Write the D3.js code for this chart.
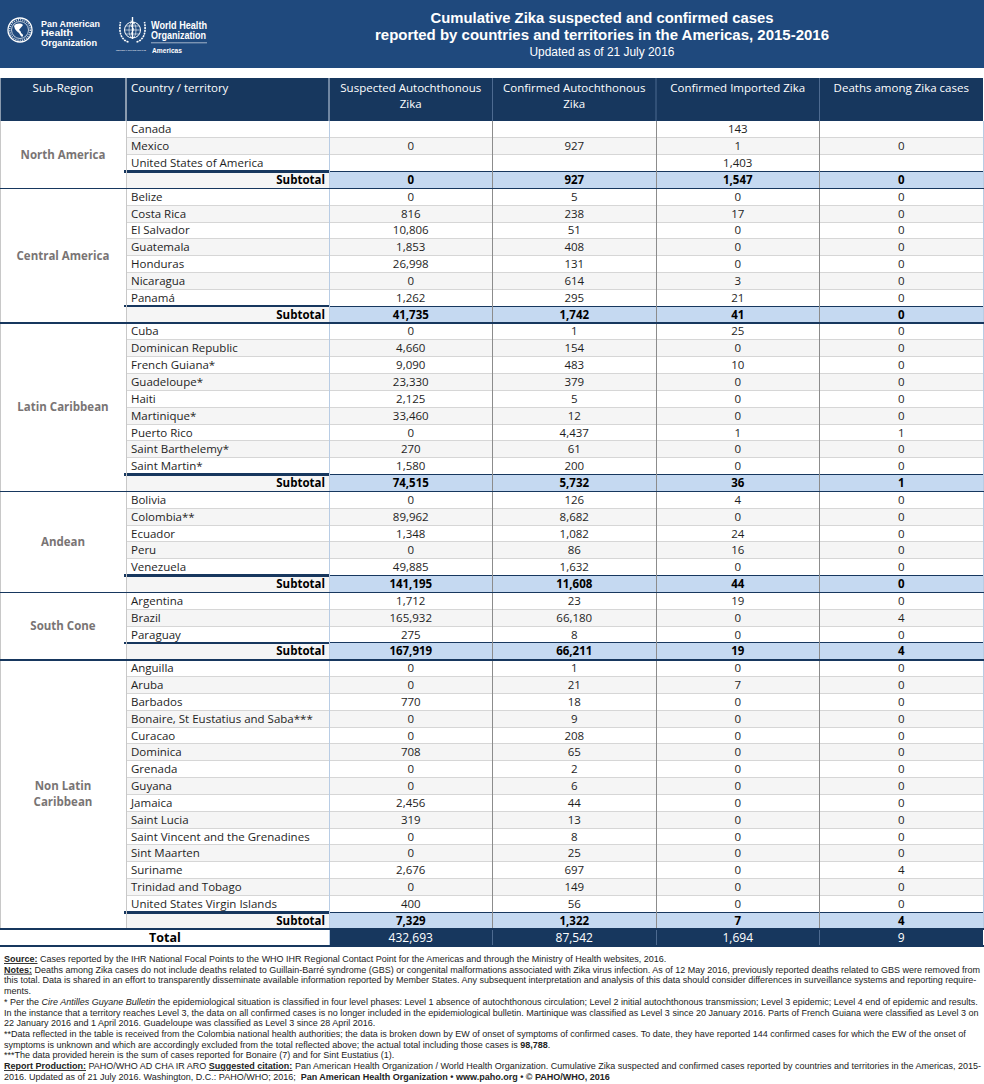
<!DOCTYPE html>
<html>
<head>
<meta charset="utf-8">
<script src="https://cdn.jsdelivr.net/npm/d3@7"></script>
<style>
  body { margin: 0; background: #fff; }
  svg { display: block; }
</style>
</head>
<body>
<script>
const subRegions = ['North America', 'Central America', 'Latin Caribbean', 'Andean', 'South Cone', 'Non Latin Caribbean'];

const countries = [
  'Canada', 'Mexico', 'United States of America',
  'Belize', 'Costa Rica', 'El Salvador', 'Guatemala', 'Honduras', 'Nicaragua', 'Panamá',
  'Cuba', 'Dominican Republic', 'French Guiana*', 'Guadeloupe*', 'Haiti', 'Martinique*', 'Puerto Rico', 'Saint Barthelemy*', 'Saint Martin*',
  'Bolivia', 'Colombia**', 'Ecuador', 'Peru', 'Venezuela',
  'Argentina', 'Brazil', 'Paraguay',
  'Anguilla', 'Aruba', 'Barbados', 'Bonaire, St Eustatius and Saba***', 'Curacao', 'Dominica', 'Grenada', 'Guyana', 'Jamaica',
  'Saint Lucia', 'Saint Vincent and the Grenadines', 'Sint Maarten', 'Suriname', 'Trinidad and Tobago', 'United States Virgin Islands'
];

const regionOf = [
  0, 0, 0,
  1, 1, 1, 1, 1, 1, 1,
  2, 2, 2, 2, 2, 2, 2, 2, 2,
  3, 3, 3, 3, 3,
  4, 4, 4,
  5, 5, 5, 5, 5, 5, 5, 5, 5, 5, 5, 5, 5, 5, 5
];

// null = cell left blank in the source
const suspected = [
  null, 0, null,
  0, 816, 10806, 1853, 26998, 0, 1262,
  0, 4660, 9090, 23330, 2125, 33460, 0, 270, 1580,
  0, 89962, 1348, 0, 49885,
  1712, 165932, 275,
  0, 0, 770, 0, 0, 708, 0, 0, 2456, 319, 0, 0, 2676, 0, 400
];
const confirmed = [
  null, 927, null,
  5, 238, 51, 408, 131, 614, 295,
  1, 154, 483, 379, 5, 12, 4437, 61, 200,
  126, 8682, 1082, 86, 1632,
  23, 66180, 8,
  1, 21, 18, 9, 208, 65, 2, 6, 44, 13, 8, 25, 697, 149, 56
];
const imported = [
  143, 1, 1403,
  0, 17, 0, 0, 0, 3, 21,
  25, 0, 10, 0, 0, 0, 1, 0, 0,
  4, 0, 24, 16, 0,
  19, 0, 0,
  0, 7, 0, 0, 0, 0, 0, 0, 0, 0, 0, 0, 0, 0, 0
];
const deaths = [
  null, 0, null,
  0, 0, 0, 0, 0, 0, 0,
  0, 0, 0, 0, 0, 0, 1, 0, 0,
  0, 0, 0, 0, 0,
  0, 4, 0,
  0, 0, 0, 0, 0, 0, 0, 0, 0, 0, 0, 0, 4, 0, 0
];

const seriesKeys = ['suspected', 'confirmed', 'imported', 'deaths'];
const seriesHeads = [['Suspected Autochthonous', 'Zika'], ['Confirmed Autochthonous', 'Zika'], ['Confirmed Imported Zika'], ['Deaths among Zika cases']];

// ---- build the table rows (subtotals/total are sums of the rows above) ----
const columns = {suspected, confirmed, imported, deaths};
const rows = [];
const regionSpans = [];
subRegions.forEach((region, r) => {
  const idx = d3.range(countries.length).filter(i => regionOf[i] == r);
  const start = rows.length;
  idx.forEach((i, k) => rows.push({
    kind: 'country', name: countries[i], region: r, zebra: k % 2 == 1,
    values: seriesKeys.map(s => columns[s][i]),
  }));
  rows.push({
    kind: 'subtotal', name: 'Subtotal', region: r, zebra: true,
    values: seriesKeys.map(s => d3.sum(idx, i => columns[s][i])),
  });
  regionSpans.push({region, start, end: rows.length});
});
const subtotals = rows.filter(d => d.kind == 'subtotal');
rows.push({
  kind: 'total', name: 'Total',
  values: seriesKeys.map((s, j) => d3.sum(subtotals, d => d.values[j])),
});

// ---- layout ----
const width = 984, height = 1084;
const navy = '#17375e';
const fmt = d3.format(',');
const tableRight = 983;

const x = d3.scaleBand().domain(seriesKeys).range([329, tableRight]);
const y = d3.scaleBand().domain(d3.range(rows.length)).range([121, 946]);
const rh = y.bandwidth();

const svg = d3.select('body')
  .append('svg')
    .attr('width', width)
    .attr('height', height)
    .style('font-family', "'Open Sans', 'Noto Sans', sans-serif");

// ---- banner ----
svg.append('rect').attr('width', width).attr('height', 68).attr('fill', '#1f497d');

// logo words are squeezed to the width they take in the original artwork
function logoText(g, x0, y0, size, weight, len, text) {
  g.append('text')
    .attr('x', x0).attr('y', y0)
    .attr('fill', '#fff')
    .attr('font-weight', weight)
    .style('font-family', "'Liberation Sans', Arial, sans-serif")
    .style('font-size', size + 'px')
    .attr('textLength', len).attr('lengthAdjust', 'spacingAndGlyphs')
    .text(text);
}

function drawLogos(g) {
  // PAHO emblem
  const p = g.append('g').attr('transform', 'translate(20,30)')
    .attr('fill', 'none').attr('stroke', '#fff');
  p.append('circle').attr('r', 12).attr('stroke-width', 1.3);
  p.append('circle').attr('r', 8.5).attr('stroke-width', 0.7);
  p.append('circle').attr('r', 10.3).attr('stroke-width', 1.6).attr('stroke-dasharray', '1 1.2').attr('opacity', 0.8);
  p.append('path').attr('fill', '#fff').attr('stroke', 'none')
    .attr('d', 'M-6,-4 C-4,-7 1,-7 3,-5 C2,-3 0,-2 -1,0 C0,1 1,1 1,3 C3,4 4,6 2,7 C1,6 0,5 -1,3 C-3,2 -4,0 -5,-1 Z');
  logoText(g, 41, 26.5, 9.5, 'bold', 59, 'Pan American');
  logoText(g, 41, 36.2, 9.5, 'bold', 32, 'Health');
  logoText(g, 41, 45.8, 9.5, 'bold', 56, 'Organization');

  // WHO emblem
  const w = g.append('g').attr('transform', 'translate(132.5,30)')
    .attr('fill', 'none').attr('stroke', '#fff');
  w.append('circle').attr('r', 8).attr('stroke-width', 1);
  w.append('ellipse').attr('rx', 3.5).attr('ry', 8).attr('stroke-width', 0.6);
  w.append('line').attr('x1', -8).attr('x2', 8).attr('stroke-width', 0.6);
  w.append('line').attr('x1', -7).attr('x2', 7).attr('y1', -4).attr('y2', -4).attr('stroke-width', 0.6);
  w.append('line').attr('x1', -7).attr('x2', 7).attr('y1', 4).attr('y2', 4).attr('stroke-width', 0.6);
  w.append('line').attr('y1', -13).attr('y2', 9).attr('stroke-width', 1.4);
  w.append('path').attr('stroke-width', 0.9).attr('d', 'M-2,-9 C2,-8 2,-6 -1,-5 C-3,-4 2,-2 1,0 C0,2 -2,3 0,5');
  [-1, 1].forEach(s => w.append('path').attr('stroke-width', 1.6).attr('stroke-dasharray', '2 0.8')
    .attr('d', `M${s * 4},12 C${s * 11},10 ${s * 14},3 ${s * 12},-8`));
  logoText(g, 151, 28.5, 10.5, 'bold', 56, 'World Health');
  logoText(g, 151, 39, 10.5, 'bold', 55, 'Organization');
  g.append('line').attr('x1', 151).attr('x2', 207).attr('y1', 42.8).attr('y2', 42.8)
    .attr('stroke', '#fff').attr('stroke-width', 0.6);
  logoText(g, 116, 51, 1.9, 'normal', 30, 'REGIONAL OFFICE FOR THE');
  logoText(g, 152, 52.5, 7, 'bold', 30, 'Americas');
}
drawLogos(svg.append('g'));

const title = svg.append('g')
  .attr('fill', '#fff')
  .attr('text-anchor', 'middle')
  .style('font-family', "'Liberation Sans', Arial, sans-serif");
title.append('text').attr('x', 602).attr('y', 23).attr('font-weight', 'bold').style('font-size', '14.5px')
  .attr('textLength', 343).attr('lengthAdjust', 'spacingAndGlyphs')
  .text('Cumulative Zika suspected and confirmed cases');
title.append('text').attr('x', 602).attr('y', 40).attr('font-weight', 'bold').style('font-size', '14.5px')
  .attr('textLength', 454).attr('lengthAdjust', 'spacingAndGlyphs')
  .text('reported by countries and territories in the Americas, 2015-2016');
title.append('text').attr('x', 602).attr('y', 55.5).style('font-size', '12px')
  .attr('textLength', 145).attr('lengthAdjust', 'spacingAndGlyphs')
  .text('Updated as of 21 July 2016');

// ---- table header ----
const head = svg.append('g');
head.append('rect').attr('x', 0.5).attr('y', 78).attr('width', tableRight - 0.5).attr('height', 43).attr('fill', navy);
head.append('line').attr('x1', 126).attr('x2', 126).attr('y1', 78).attr('y2', 121).attr('stroke', '#fff');
head.selectAll('line.sep').data(seriesKeys).join('line')
  .attr('class', 'sep')
  .attr('x1', d => x(d)).attr('x2', d => x(d))
  .attr('y1', 78).attr('y2', 121)
  .attr('stroke', (d, i) => i == 0 ? '#c9d6e6' : '#4d6a90');

const headText = head.append('g').attr('fill', '#fff').style('font-size', '11.5px');
headText.append('text').attr('x', 63).attr('y', 88).attr('dy', '0.35em').attr('text-anchor', 'middle').text('Sub-Region');
headText.append('text').attr('x', 131).attr('y', 88).attr('dy', '0.35em').text('Country / territory');
seriesKeys.forEach((k, j) => {
  headText.selectAll(null).data(seriesHeads[j]).join('text')
    .attr('x', x(k) + x.bandwidth() / 2)
    .attr('y', (d, i) => 88 + i * 15.5)
    .attr('dy', '0.35em')
    .attr('text-anchor', 'middle')
    .text(d => d);
});

// ---- table body: backgrounds ----
const body = svg.append('g');
const rowG = body.selectAll('g.row')
  .data(rows)
  .join('g')
    .attr('class', 'row')
    .attr('transform', (d, i) => `translate(0,${y(i)})`);

rowG.append('rect')
  .attr('x', 126).attr('width', 329 - 126).attr('height', rh)
  .attr('fill', d => d.kind != 'total' && d.zebra ? '#f5f5f5' : '#fff');

rowG.selectAll('rect.cell')
  .data(d => d.values.map((v, j) => ({v, key: seriesKeys[j], row: d})))
  .join('rect')
    .attr('class', 'cell')
    .attr('x', d => x(d.key)).attr('width', x.bandwidth()).attr('height', rh)
    .attr('fill', d => d.row.kind == 'total' ? navy
      : d.row.kind == 'subtotal' ? '#c5d9f1'
      : d.row.zebra ? '#f5f5f5' : '#fff');

// sub-region cells
const regionG = body.selectAll('g.region')
  .data(regionSpans)
  .join('g')
    .attr('class', 'region');
regionG.append('rect')
  .attr('x', 0.5).attr('width', 125.5)
  .attr('y', d => y(d.start)).attr('height', d => (d.end - d.start) * rh)
  .attr('fill', '#fff');
regionG.append('text')
  .attr('text-anchor', 'middle')
  .attr('fill', '#797474')
  .attr('font-weight', 'bold')
  .style('font-size', '11.5px')
  .selectAll('tspan')
  .data(d => {
    const words = d.region == 'Non Latin Caribbean' ? ['Non Latin', 'Caribbean'] : [d.region];
    const mid = y(d.start) + (d.end - d.start) * rh / 2;
    return words.map((w, i) => ({w, cy: mid + (i - (words.length - 1) / 2) * 16}));
  })
  .join('tspan')
    .attr('x', 63).attr('y', d => d.cy).attr('dy', '0.35em')
    .text(d => d.w);

// total label cell
const totalIndex = rows.length - 1;
body.append('rect').attr('x', 0.5).attr('y', y(totalIndex)).attr('width', 328.5).attr('height', rh).attr('fill', '#fff');

// ---- grid lines ----
const grid = svg.append('g').attr('shape-rendering', 'crispEdges');
rows.forEach((d, i) => {
  if (i == 0 || d.kind == 'total') return;
  const isStart = regionSpans.some(s => s.start == i);
  if (isStart) return;
  if (d.kind == 'subtotal') {
    grid.append('line').attr('x1', 124).attr('x2', 329).attr('y1', y(i)).attr('y2', y(i))
      .attr('stroke', navy).attr('stroke-width', 2.5);
    grid.append('line').attr('x1', 329).attr('x2', tableRight).attr('y1', y(i)).attr('y2', y(i))
      .attr('stroke', navy).attr('stroke-width', 1);
  } else {
    grid.append('line').attr('x1', 126).attr('x2', tableRight).attr('y1', y(i)).attr('y2', y(i))
      .attr('stroke', '#d6d6d6');
  }
});

const bodyTop = y(0), totalTop = y(totalIndex), bodyBottom = totalTop + rh;
grid.selectAll('line.v')
  .data([
    {x: 0.5, y2: totalTop, c: '#c8c8c8'},
    {x: 126, y2: totalTop, c: '#c8c8c8'},
    {x: 329, y2: bodyBottom, c: '#b8cce4'},
    ...seriesKeys.slice(1).map(k => ({x: x(k), y2: totalTop, c: '#8c8c8c'})),
    {x: tableRight, y2: totalTop, c: '#b8cce4'},
  ])
  .join('line')
    .attr('x1', d => d.x).attr('x2', d => d.x)
    .attr('y1', bodyTop).attr('y2', d => d.y2)
    .attr('stroke', d => d.c);
grid.selectAll('line.tv')
  .data(seriesKeys.slice(1))
  .join('line')
    .attr('x1', d => x(d)).attr('x2', d => x(d))
    .attr('y1', totalTop).attr('y2', bodyBottom)
    .attr('stroke', '#4d6a90');

grid.selectAll('line.region')
  .data([...regionSpans.slice(1).map(s => y(s.start)), totalTop, bodyBottom])
  .join('line')
    .attr('x1', 0).attr('x2', tableRight + 1)
    .attr('y1', d => d).attr('y2', d => d)
    .attr('stroke', navy).attr('stroke-width', 1.5);

// ---- table body: texts ----
const textG = svg.append('g').style('font-size', '11.5px');
const textRow = textG.selectAll('g')
  .data(rows)
  .join('g')
    .attr('transform', (d, i) => `translate(0,${y(i) + rh / 2})`);

textRow.filter(d => d.kind == 'country')
  .append('text')
    .attr('x', 131).attr('dy', '0.35em')
    .attr('fill', '#1e1e1e')
    .text(d => d.name);
textRow.filter(d => d.kind == 'subtotal')
  .append('text')
    .attr('x', 325).attr('dy', '0.35em')
    .attr('text-anchor', 'end')
    .attr('font-weight', 'bold')
    .attr('fill', '#000')
    .text(d => d.name);
textRow.filter(d => d.kind == 'total')
  .append('text')
    .attr('x', 165).attr('dy', '0.35em')
    .attr('text-anchor', 'middle')
    .attr('font-weight', 'bold')
    .style('font-size', '12.5px')
    .attr('fill', '#000')
    .text(d => d.name);

textRow.selectAll('text.v')
  .data(d => d.values.map((v, j) => ({v, key: seriesKeys[j], row: d})))
  .join('text')
    .attr('class', 'v')
    .attr('x', d => x(d.key) + x.bandwidth() / 2)
    .attr('dy', '0.35em')
    .attr('text-anchor', 'middle')
    .attr('font-weight', d => d.row.kind == 'subtotal' ? 'bold' : null)
    .attr('fill', d => d.row.kind == 'total' ? '#fff' : d.row.kind == 'subtotal' ? '#000' : '#1e1e1e')
    .style('font-size', d => d.row.kind == 'total' ? '12px' : null)
    .text(d => d.v == null ? '' : fmt(d.v));

// ---- footnotes ----
const B = 'b', U = 'bu', I = 'i';
const notes = [
  [['Source:', U], [' Cases reported by the IHR National Focal Points to the WHO IHR Regional Contact Point for the Americas and through the Ministry of Health websites, 2016.']],
  [['Notes:', U], [' Deaths among Zika cases do not include deaths related to Guillain-Barré syndrome (GBS) or congenital malformations associated with Zika virus infection. As of 12 May 2016, previously reported deaths related to GBS were removed from']],
  [['this total. Data is shared in an effort to transparently disseminate available information reported by Member States. Any subsequent interpretation and analysis of this data should consider differences in surveillance systems and reporting require-']],
  [['ments.']],
  [['* Per the '], ['Cire Antilles Guyane Bulletin', I], [' the epidemiological situation is classified in four level phases: Level 1 absence of autochthonous circulation; Level 2 initial autochthonous transmission; Level 3 epidemic; Level 4 end of epidemic and results.']],
  [['In the instance that a territory reaches Level 3, the data on all confirmed cases is no longer included in the epidemiological bulletin. Martinique was classified as Level 3 since 20 January 2016. Parts of French Guiana were classified as Level 3 on']],
  [['22 January 2016 and 1 April 2016. Guadeloupe was classified as Level 3 since 28 April 2016.']],
  [['**Data reflected in the table is received from the Colombia national health authorities; the data is broken down by EW of onset of symptoms of confirmed cases. To date, they have reported 144 confirmed cases for which the EW of the onset of']],
  [['symptoms is unknown and which are accordingly excluded from the total reflected above; the actual total including those cases is '], ['98,788', B], ['.']],
  [['***The data provided herein is the sum of cases reported for Bonaire (7) and for Sint Eustatius (1).']],
  [['Report Production:', U], [' PAHO/WHO AD CHA IR ARO '], ['Suggested citation:', U], [' Pan American Health Organization / World Health Organization. Cumulative Zika suspected and confirmed cases reported by countries and territories in the Americas, 2015-']],
  [['2016. Updated as of 21 July 2016. Washington, D.C.: PAHO/WHO; 2016;  '], ['Pan American Health Organization • www.paho.org • © PAHO/WHO, 2016', B]],
];

svg.append('g')
  .style('font-family', "'Liberation Sans', Arial, sans-serif")
  .style('font-size', '9px')
  .attr('fill', '#222')
  .selectAll('text')
  .data(notes)
  .join('text')
    .attr('x', 4)
    .attr('y', (d, i) => 962 + i * 10.7)
    .attr('xml:space', 'preserve')
    .style('white-space', 'pre')
  .selectAll('tspan')
  .data(d => d)
  .join('tspan')
    .attr('font-weight', ([, s]) => s == B || s == U ? 'bold' : null)
    .attr('font-style', ([, s]) => s == I ? 'italic' : null)
    .attr('text-decoration', ([, s]) => s == U ? 'underline' : null)
    .text(([t]) => t);
</script>
</body>
</html>
